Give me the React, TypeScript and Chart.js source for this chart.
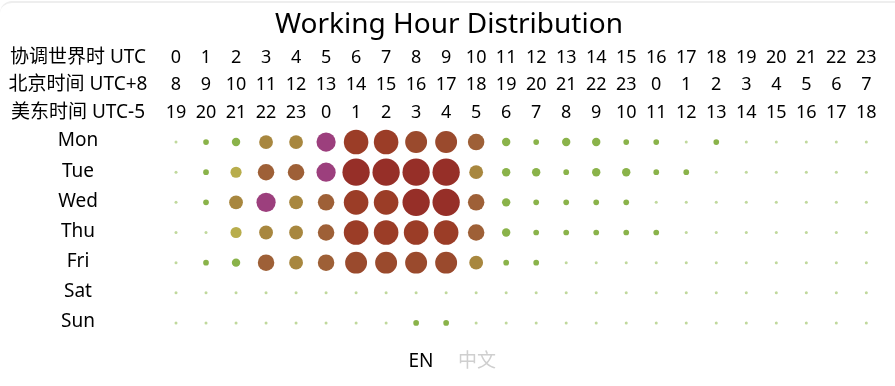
import React, { useEffect, useRef } from "react";
import { Chart, registerables } from "chart.js";

Chart.register(...registerables);

const TITLE = "Working Hour Distribution";
const days = ["Mon", "Tue", "Wed", "Thu", "Fri", "Sat", "Sun"];
const hours = Array.from({ length: 24 }, (_, i) => i);
const rowLabels = ["协调世界时 UTC", "北京时间 UTC+8", "美东时间 UTC-5"];
const utcTicks = ["0","1","2","3","4","5","6","7","8","9","10","11","12","13","14","15","16","17","18","19","20","21","22","23"];
const bjTicks = ["8","9","10","11","12","13","14","15","16","17","18","19","20","21","22","23","0","1","2","3","4","5","6","7"];
const usTicks = ["19","20","21","22","23","0","1","2","3","4","5","6","7","8","9","10","11","12","13","14","15","16","17","18"];

// activity level per hour (UTC), 0..9
const mon = [0,1,2,4,4,6,8,8,7,7,5,2,1,2,2,1,1,0,1,0,0,0,0,0];
const tue = [0,1,3,5,5,6,9,9,9,9,4,2,2,1,2,2,1,1,0,0,0,0,0,0];
const wed = [0,1,4,6,4,5,8,8,9,9,5,2,1,1,1,1,0,0,0,0,0,0,0,0];
const thu = [0,0,3,4,4,5,8,8,8,8,5,2,1,1,1,1,1,0,0,0,0,0,0,0];
const fri = [0,1,2,5,4,5,7,7,7,7,4,1,1,0,0,0,0,0,0,0,0,0,0,0];
const sat = [0,0,0,0,0,0,0,0,0,0,0,0,0,0,0,0,0,0,0,0,0,0,0,0];
const sun = [0,0,0,0,0,0,0,0,1,1,0,0,0,0,0,0,0,0,0,0,0,0,0,0];
const weekValues = [mon, tue, wed, thu, fri, sat, sun];

const levelColors = [
  "#c0d89c", "#8ab34a", "#8ab34a", "#b8ad4c", "#a8873f",
  "#9e6037", "#9c3f7d", "#9a4a2d", "#9b3d27", "#962f28",
];

const FONT = '"Noto Sans", "Noto Sans CJK SC", sans-serif';

export default function App() {
  const ref = useRef<HTMLCanvasElement | null>(null);

  useEffect(() => {
    if (!ref.current) return;
    const points: { x: number; y: number; v: number }[] = [];
    weekValues.forEach((row, d) =>
      row.forEach((v, h) => points.push({ x: hours[h], y: d, v }))
    );

    const textPlugin = {
      id: "textPlugin",
      afterDraw(chart: any) {
        const ctx = chart.ctx;
        const xs = chart.scales.x;
        const ys = chart.scales.y;
        ctx.save();
        ctx.textAlign = "center";
        ctx.textBaseline = "middle";
        ctx.fillStyle = "#000";
        ctx.font = `28px ${FONT}`;
        ctx.fillText(TITLE, 449, 25);
        const rowsY = [58, 85, 113];
        const tickSets = [utcTicks, bjTicks, usTicks];
        rowLabels.forEach((lab, i) => {
          ctx.font = `19px ${FONT}`;
          ctx.fillText(lab, 78, rowsY[i]);
          ctx.font = `18px ${FONT}`;
          tickSets[i].forEach((t, h) => {
            ctx.fillText(t, xs.getPixelForValue(hours[h]), rowsY[i]);
          });
        });
        ctx.font = `19px ${FONT}`;
        days.forEach((d, i) => {
          ctx.fillText(d, 78, ys.getPixelForValue(i) - 1);
        });
        ctx.font = `19px ${FONT}`;
        ctx.fillText("EN", 421, 362);
        ctx.fillStyle = "#cfcfcf";
        ctx.fillText("中文", 477, 362);
        ctx.restore();
      },
    };

    const chart = new Chart(ref.current, {
      type: "bubble",
      data: {
        datasets: [
          {
            data: points as any,
            borderWidth: 0,
            radius: (c: any) => 1.5 + 1.35 * (c.raw ? c.raw.v : 0),
            backgroundColor: (c: any) => levelColors[c.raw ? c.raw.v : 0],
            hoverRadius: 0,
          } as any,
        ],
      },
      options: {
        animation: false,
        responsive: false,
        layout: { padding: { left: 161, right: 10, top: 127, bottom: 48 } },
        plugins: { legend: { display: false }, tooltip: { enabled: false }, title: { display: false } },
        scales: {
          x: { type: "linear", min: -0.5, max: 23.5, display: false },
          y: { type: "linear", min: -0.5, max: 6.5, reverse: true, display: false },
        },
        clip: false as any,
      },
      plugins: [textPlugin],
    });
    return () => chart.destroy();
  }, []);

  return (
    <div style={{ position: "fixed", left: 0, top: 0, width: 895, height: 386, background: "#fff", overflow: "hidden" }}>
      <div style={{ position: "absolute", left: 0, top: 1, width: 1200, height: 600, borderTop: "2px solid #eeeeee", borderTopLeftRadius: 12, boxSizing: "border-box" }} />
      <canvas ref={ref} width={895} height={386} style={{ position: "absolute", left: 0, top: 0 }} />
    </div>
  );
}
